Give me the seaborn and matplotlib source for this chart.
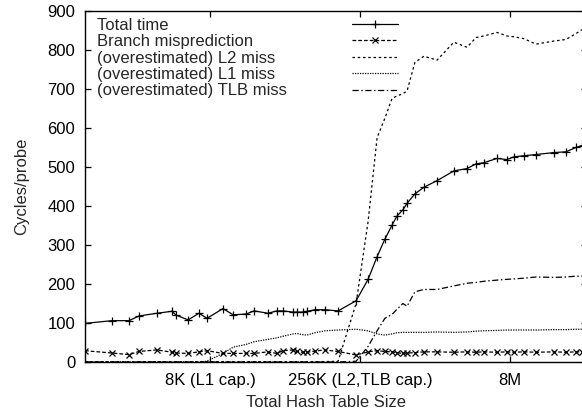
import pandas as pd
import seaborn as sns
import matplotlib
matplotlib.use("Agg")
import matplotlib.pyplot as plt

# table size as log2(bytes); 13 = 8K, 18 = 256K, 23 = 8M
log2_bytes = [8.83, 9.73, 10.30, 10.63, 11.23, 11.73, 11.87, 12.27, 12.63, 12.90,
              13.43, 13.77, 14.20, 14.47, 14.93, 15.23, 15.43, 15.77, 15.90, 16.10,
              16.23, 16.50, 16.83, 17.27, 17.87, 18.27, 18.57, 18.83, 19.07, 19.23,
              19.43, 19.57, 19.83, 20.13, 20.57, 21.13, 21.57, 21.87, 22.13, 22.57,
              22.90, 23.13, 23.47, 23.87, 24.47, 24.87, 25.20, 25.40]

total_time = [99, 106, 106, 118, 125, 130, 120, 108, 125, 112,
              137, 121, 123, 131, 125, 131, 131, 128, 128, 128,
              130, 134, 134, 131, 157, 212, 270, 315, 351, 374,
              390, 407, 431, 448, 465, 490, 496, 508, 511, 522,
              519, 526, 529, 532, 537, 539, 550, 555]

branch_mispred = [29, 23, 19, 27, 31, 25, 23, 22, 26, 29,
                  22, 22, 22, 22, 26, 22, 29, 31, 27, 25,
                  25, 28, 31, 27, 18, 26, 29, 27, 26, 24,
                  22, 23, 24, 26, 26, 25, 26, 25, 26, 25,
                  26, 25, 26, 25, 26, 25, 26, 26]

l2_miss = [1, 1, 1, 1, 1, 1, 1, 1, 1, 1,
           1, 1, 1, 1, 1, 1, 1, 1, 1, 1,
           1, 1, 1, 2, 150, 360, 575, 625, 676, 682,
           688, 695, 768, 784, 774, 820, 807, 832, 836, 845,
           836, 834, 829, 815, 823, 827, 842, 852]

l1_miss = [0, 0, 0, 0, 0, 0, 0, 0, 0, 2,
           22, 38, 45, 52, 58, 62, 66, 72, 73, 70,
           69, 75, 80, 82, 84, 80, 72, 69, 72, 75,
           76, 76, 76, 76, 77, 76, 77, 79, 80, 81,
           82, 82, 82, 82, 83, 83, 84, 84]

tlb_miss = [0, 0, 0, 0, 0, 0, 0, 0, 0, 0,
            0, 0, 0, 0, 0, 0, 0, 0, 0, 0,
            0, 0, 0, 0, 2, 40, 80, 112, 122, 135,
            150, 143, 180, 186, 186, 195, 202, 204, 207, 210,
            212, 213, 215, 218, 217, 218, 220, 220]

x_ticks = [13, 18, 23]
x_tick_labels = ["8K (L1 cap.)", "256K (L2,TLB cap.)", "8M"]

series = [
    ("Total time", total_time, dict(linestyle="-", marker="+", markersize=6)),
    ("Branch misprediction", branch_mispred, dict(linestyle=(0, (3, 1.6)), marker="x", markersize=4)),
    ("(overestimated) L2 miss", l2_miss, dict(linestyle=(0, (2, 2.2)))),
    ("(overestimated) L1 miss", l1_miss, dict(linestyle=(0, (1, 1)))),
    ("(overestimated) TLB miss", tlb_miss, dict(linestyle=(0, (5, 2, 1.2, 2)))),
]

FS = 12

sns.set_style("ticks")
plt.rcParams["font.family"] = ["Liberation Sans", "DejaVu Sans"]

fig = plt.figure(figsize=(5.82, 4.15), dpi=100)
ax = fig.add_axes([85 / 582, 53 / 415, 502 / 582, 351 / 415])

for name, values, style in series:
    df = pd.DataFrame({"size": log2_bytes, "cycles": values})
    sns.lineplot(data=df, x="size", y="cycles", ax=ax, color="black",
                 linewidth=0.9, markeredgewidth=0.9, markeredgecolor="black",
                 label=name, **style)

ax.set_xlim(8.83, 25.57)
ax.set_ylim(0, 900)
ax.set_yticks(range(0, 901, 100))
ax.set_xticks(x_ticks)
ax.set_xticklabels(x_tick_labels)
ax.tick_params(direction="in", top=True, right=True, length=4.5, width=0.9,
               labelsize=FS, colors="black")
ax.tick_params(axis="y", pad=7)
ax.tick_params(axis="x", pad=8)
for sp in ax.spines.values():
    sp.set_linewidth(1.0)
    sp.set_color("black")

ax.set_xlabel("Total Hash Table Size", fontsize=FS)
ax.set_ylabel("Cycles/probe", fontsize=FS)
ax.xaxis.set_label_coords(0.48, -0.095)
ax.yaxis.set_label_coords(-0.112, 0.5)

# gnuplot-style key: labels on the left, samples in a separate column
handles, labels = ax.get_legend_handles_labels()
ax.get_legend().remove()
key_kw = dict(loc="upper left", frameon=False, labelspacing=0.085,
              borderpad=0, borderaxespad=0, fontsize=FS)
text_key = ax.legend(handles, labels, bbox_to_anchor=(12 / 502, 0.981),
                     handlelength=0, handletextpad=0, **key_kw)
for h in text_key.legend_handles:
    h.set_visible(False)
ax.add_artist(text_key)
ax.legend(handles, [" "] * len(handles), bbox_to_anchor=(267 / 502, 0.981),
          handlelength=2.75, handletextpad=0, **key_kw)

fig.savefig("out.png", dpi=100)
